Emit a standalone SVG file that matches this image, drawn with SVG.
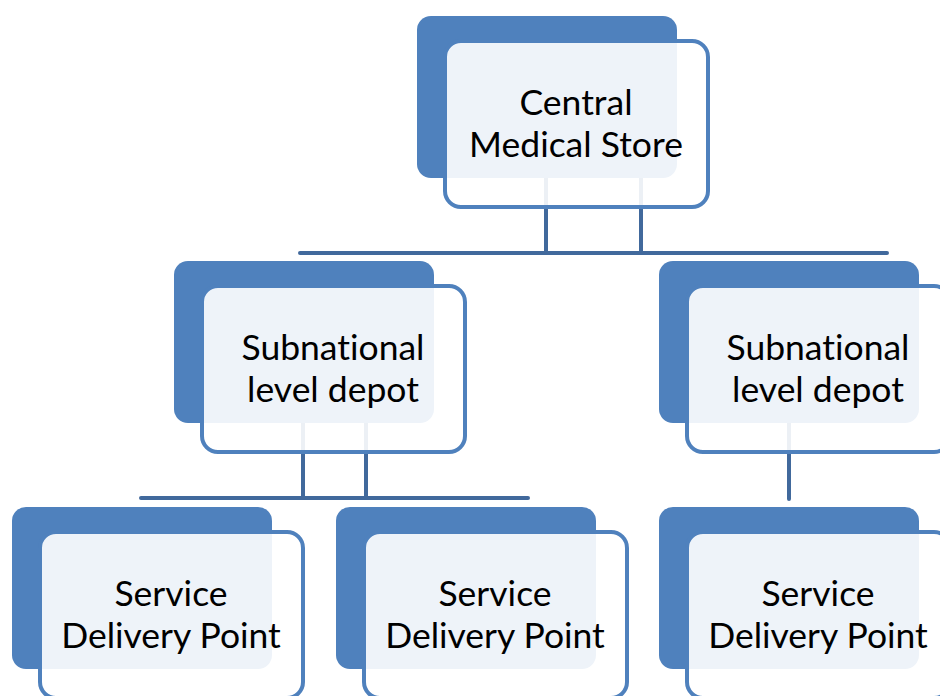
<svg xmlns="http://www.w3.org/2000/svg" width="940" height="696" viewBox="0 0 940 696">
<style>
.back{fill:#4F81BD;}
.front{fill:#FFFFFF;fill-opacity:0.9;stroke:#4F81BD;stroke-width:4;}
.lbl{font-family:Lato,"Open Sans",sans-serif;font-size:35.5px;fill:#000000;text-anchor:middle;font-variant-ligatures:none;}
.conn{stroke:#41699C;stroke-width:4;fill:none;stroke-linecap:round;}
</style>
<rect width="940" height="696" fill="#FFFFFF"/>
<g id="connectors">
<path class="conn" d="M546,170 V253 M641,170 V253 M300,253 H887"/>
<path class="conn" d="M303,415 V498 M366,415 V498 M141,498 H528"/>
<path class="conn" d="M789,415 V499"/>
</g>
<g id="central">
<rect class="back" x="417" y="16" width="260" height="162" rx="14"/>
<rect class="front" x="445" y="41" width="263" height="166" rx="16"/>
<text class="lbl" x="576" y="115">Central</text>
<text class="lbl" x="576" y="157">Medical Store</text>
</g>
<g id="sub-left">
<rect class="back" x="174" y="261" width="260" height="162" rx="14"/>
<rect class="front" x="202" y="286" width="263" height="166" rx="16"/>
<text class="lbl" x="333" y="360">Subnational</text>
<text class="lbl" x="333" y="402">level depot</text>
</g>
<g id="sub-right">
<rect class="back" x="659" y="261" width="260" height="162" rx="14"/>
<rect class="front" x="687" y="286" width="263" height="166" rx="16"/>
<text class="lbl" x="818" y="360">Subnational</text>
<text class="lbl" x="818" y="402">level depot</text>
</g>
<g id="sdp-1">
<rect class="back" x="12" y="507" width="260" height="162" rx="14"/>
<rect class="front" x="40" y="532" width="263" height="166" rx="16"/>
<text class="lbl" x="171" y="606">Service</text>
<text class="lbl" x="171" y="648">Delivery Point</text>
</g>
<g id="sdp-2">
<rect class="back" x="336" y="507" width="260" height="162" rx="14"/>
<rect class="front" x="364" y="532" width="263" height="166" rx="16"/>
<text class="lbl" x="495" y="606">Service</text>
<text class="lbl" x="495" y="648">Delivery Point</text>
</g>
<g id="sdp-3">
<rect class="back" x="659" y="507" width="260" height="162" rx="14"/>
<rect class="front" x="687" y="532" width="263" height="166" rx="16"/>
<text class="lbl" x="818" y="606">Service</text>
<text class="lbl" x="818" y="648">Delivery Point</text>
</g>
</svg>
